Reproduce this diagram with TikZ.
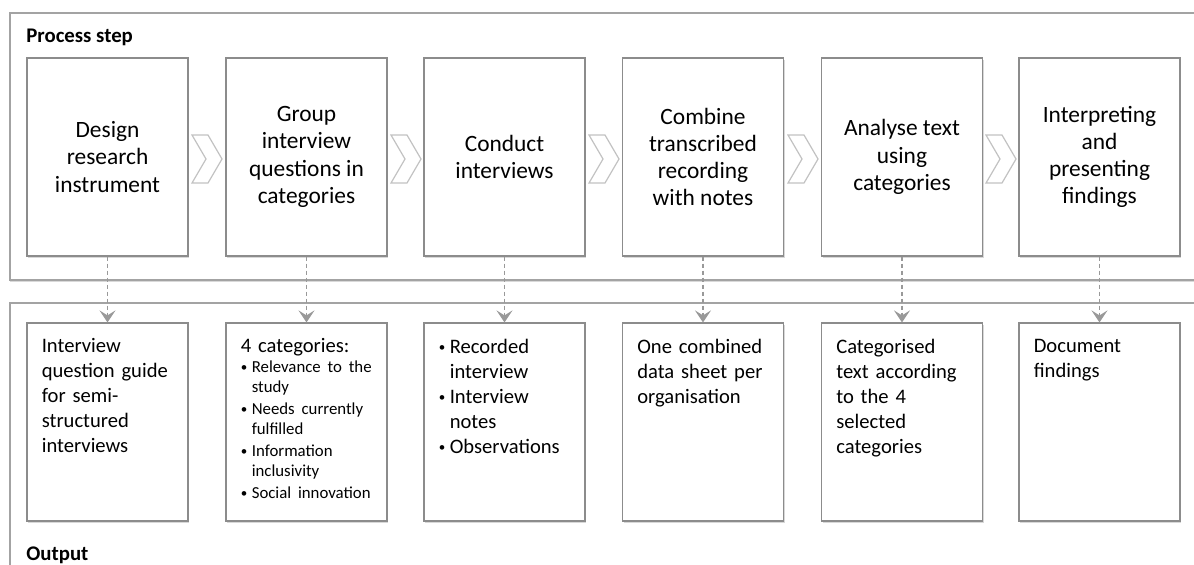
\documentclass[tikz,border=0pt]{standalone}
\usepackage{fontspec}
\setmainfont{Carlito}
\usetikzlibrary{arrows.meta,shadows}
\definecolor{framegray}{HTML}{A3A3A3}
\definecolor{boxgray}{HTML}{8C8C8C}
\definecolor{chevgray}{HTML}{C2C2C2}
\definecolor{flowgray}{HTML}{999999}
\newcommand\bul{\makebox[5.5pt][l]{\raisebox{0.7pt}{\fontsize{6.5}{6.5}\selectfont\textbullet}}}
\newcommand\ind{\hspace*{5.5pt}}
\newcommand\chev[1]{\draw[chevron] (#1,135) -- ++(16,0) -- ++(14,24) -- ++(-14,24) -- ++(-16,0) -- ++(14,-24) -- cycle;}

\begin{document}
\begin{tikzpicture}[x=0.5pt,y=-0.5pt,
  frame/.style={draw=framegray, line width=0.8pt, fill=white, drop shadow={opacity=0.3, shadow xshift=0pt, shadow yshift=-1pt}},
  stepbox/.style={draw=boxgray, line width=0.6pt, fill=white, minimum width=80.5pt, minimum height=99pt, inner sep=0pt, align=center, font=\fontsize{11.7}{13.6}\selectfont, drop shadow={opacity=0.3, shadow xshift=0.5pt, shadow yshift=-1pt}},
  outbox/.style={draw=boxgray, line width=0.6pt, fill=white, minimum width=80.5pt, minimum height=99pt, inner sep=0pt, drop shadow={opacity=0.3, shadow xshift=0.5pt, shadow yshift=-1pt}},
  outtext/.style={anchor=north west, text width=75pt, align=left, inner xsep=7.5pt, inner ysep=8pt, font=\fontsize{10.3}{12.5}\selectfont},
  chevron/.style={draw=chevgray, fill=white, line width=0.6pt},
  flow/.style={draw=flowgray, line width=0.75pt, dash pattern=on 2pt off 1.5pt, -{Stealth[length=6pt,width=8pt,inset=2.5pt]}},
  title/.style={anchor=base west, inner sep=0pt, font=\fontsize{10.4}{12}\selectfont\bfseries}]

\useasboundingbox (0,0) rectangle (1194,564);

\draw[frame] (10,13) rectangle (1215,280); %process step frame
\draw[frame] (10,303) rectangle (1215,600); %output frame

\node[title] (steplabel) at (26,42) {Process step};
\node[title] (outlabel) at (26,560) {Output};

% steps
\node[stepbox] (step1) at (107.5,157) {Design\\research\\instrument};
\node[stepbox] (step2) at (306.5,157) {Group\\interview\\questions in\\categories};
\node[stepbox] (step3) at (504.5,157) {Conduct\\interviews};
\node[stepbox] (step4) at (703,157) {Combine\\transcribed\\recording\\with notes};
\node[stepbox] (step5) at (902,157) {Analyse text\\using\\categories};
\node[stepbox] (step6) at (1099.5,157) {Interpreting\\and\\presenting\\findings};

\chev{192} \chev{391} \chev{589} \chev{788} \chev{986}

% outputs
\node[outbox] (out1) at (107.5,422) {};
\node[outbox] (out2) at (306.5,422) {};
\node[outbox] (out3) at (504.5,422) {};
\node[outbox] (out4) at (703,422) {};
\node[outbox] (out5) at (902,422) {};
\node[outbox] (out6) at (1099.5,422) {};

\node[outtext] (txt1) at (out1.north west) {Interview\\question guide\\for semi-\\structured\\interviews};
\node[outtext] (txt2) at (out2.north west) {4 categories:\par
  \fontsize{8.4}{10}\selectfont
  \bul Relevance to the\\\ind study\\[1pt]
  \bul Needs currently\\\ind fulfilled\\[1pt]
  \bul Information\\\ind inclusivity\\[1pt]
  \bul Social innovation\par};
\node[outtext] (txt3) at (out3.north west) {\bul Recorded\\\ind interview\\\bul Interview\\\ind notes\\\bul Observations};
\node[outtext] (txt4) at (out4.north west) {One combined\\data sheet per\\organisation};
\node[outtext] (txt5) at (out5.north west) {Categorised\\text according\\to the 4\\selected\\categories};
\node[outtext] (txt6) at (out6.north west) {Document\\findings};

\draw[flow] (step1) -- (out1);
\draw[flow] (step2) -- (out2);
\draw[flow] (step3) -- (out3);
\draw[flow] (step4) -- (out4);
\draw[flow] (step5) -- (out5);
\draw[flow] (step6) -- (out6);
\end{tikzpicture}
\end{document}
